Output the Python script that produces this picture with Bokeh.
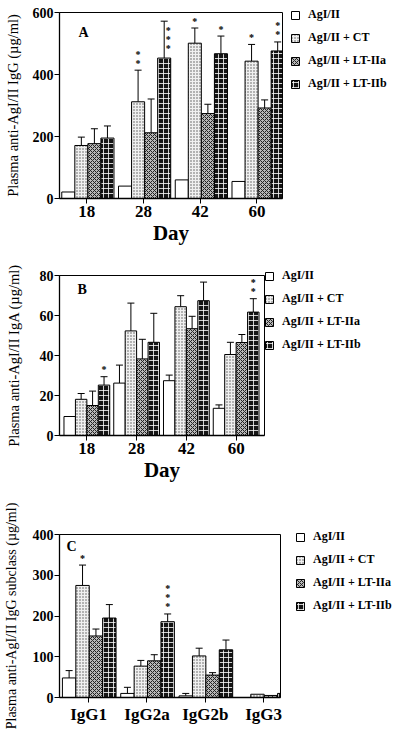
import math
from bokeh.plotting import figure
from bokeh.models import (Range1d, FixedTicker, Whisker, TeeHead, ColumnDataSource,
                          Legend, LegendItem, Label)
from bokeh.layouts import column
from bokeh.embed import file_html
from bokeh.resources import INLINE
from bokeh.core.properties import value

# ---------------- data ----------------
series = ["AgI/II", "AgI/II + CT", "AgI/II + LT-IIa", "AgI/II + LT-IIb"]
days = ["18", "28", "42", "60"]
subclasses = ["IgG1", "IgG2a", "IgG2b", "IgG3"]

# Panel A: plasma IgG (ug/ml)
igg_agi = [21, 40, 60, 55]
igg_ct = [171, 312, 501, 443]
igg_lt2a = [177, 212, 274, 292]
igg_lt2b = [195, 453, 467, 476]
igg_agi_err = [None, None, None, None]
igg_ct_err = [198, 414, 550, 497]
igg_lt2a_err = [225, 321, 304, 318]
igg_lt2b_err = [234, 572, 524, 505]
igg_ct_stars = [0, 2, 1, 1]
igg_lt2b_stars = [0, 3, 1, 2]

# Panel B: plasma IgA (ug/ml)
iga_agi = [9.5, 26.2, 27.4, 13.6]
iga_ct = [18.1, 52.3, 64.4, 40.5]
iga_lt2a = [15.0, 38.3, 53.4, 46.5]
iga_lt2b = [25.2, 46.6, 67.4, 61.7]
iga_agi_err = [None, 35.2, 30.2, 15.3]
iga_ct_err = [21.0, 66.2, 69.9, 46.6]
iga_lt2a_err = [22.2, 48.1, 59.6, 50.5]
iga_lt2b_err = [29.4, 61.1, 76.7, 68.4]
iga_lt2b_stars = [1, 0, 0, 2]

# Panel C: IgG subclasses (ug/ml)
sub_agi = [48, 10, 4, 0]
sub_ct = [275, 77, 102, 8]
sub_lt2a = [151, 90, 55, 5]
sub_lt2b = [195, 186, 117, 10]
sub_agi_err = [66, 25, 10, None]
sub_ct_err = [325, 91, 121, None]
sub_lt2a_err = [168, 105, 61, None]
sub_lt2b_err = [228, 205, 141, None]
sub_ct_stars = [1, 0, 0, 0]
sub_lt2b_stars = [0, 3, 0, 0]

# ---------------- styles ----------------
SERIF = "Liberation Serif"
styles = [
    dict(fill_color="white"),
    dict(fill_color="#f0f0f0", hatch_pattern="dot", hatch_scale=3, hatch_weight=1.1, hatch_color="#555555"),
    dict(fill_color="#b8b8b8", hatch_pattern="diagonal_cross", hatch_scale=4, hatch_weight=1, hatch_color="#222222"),
    dict(fill_color="#151515", hatch_pattern="cross", hatch_scale=5, hatch_weight=0.8, hatch_color="white"),
]
BAR_W = 0.23
OFFS = [-0.345, -0.115, 0.115, 0.345]


def make_panel(cats, vals, errs, stars, ymax, ystep, ylabel, letter, xlabel,
               left, fw, fh, top, bottom, right, xr, shift, letter_off,
               leg_dx, leg_dy, leg_standoff, ylab_standoff, ylab_size):
    p = figure(frame_width=fw, frame_height=fh, min_border_left=left, min_border_right=right,
               min_border_top=top, min_border_bottom=bottom,
               x_range=Range1d(*xr), y_range=Range1d(0, ymax),
               output_backend="svg", toolbar_location=None, tools="")
    p.background_fill_color = "white"
    p.border_fill_color = "white"
    p.outline_line_color = "black"
    p.outline_line_width = 1
    p.grid.visible = False

    renderers = []
    for j in range(4):
        xs = [i + 0.5 + shift + OFFS[j] for i in range(len(cats))]
        src = ColumnDataSource(dict(x=xs, top=vals[j]))
        r = p.vbar(x="x", top="top", bottom=0, width=BAR_W, source=src,
                   line_color="black", line_width=1, **styles[j])
        renderers.append(r)
        ex = [xs[i] for i in range(len(cats)) if errs[j][i] is not None]
        et = [vals[j][i] for i in range(len(cats)) if errs[j][i] is not None]
        eu = [errs[j][i] for i in range(len(cats)) if errs[j][i] is not None]
        if ex:
            wsrc = ColumnDataSource(dict(base=ex, lower=et, upper=eu))
            w = Whisker(source=wsrc, base="base", lower="lower", upper="upper",
                        line_color="black", line_width=1,
                        upper_head=TeeHead(size=7, line_color="black", line_width=1),
                        lower_head=None)
            p.add_layout(w)
        if stars[j] is not None:
            sx, sy, sxo, syo = [], [], [], []
            for i in range(len(cats)):
                n = stars[j][i]
                if not n:
                    continue
                gap = (ymax - errs[j][i]) / ymax * fh
                beside = gap < 7 + 9 * (n - 1) + 3
                for k in range(n):
                    sx.append(xs[i])
                    sy.append(errs[j][i])
                    if beside:
                        sxo.append(4)
                        syo.append(9 + 9 * k)
                    else:
                        sxo.append(0)
                        syo.append(-(7 + 9 * k))
            ssrc = ColumnDataSource(dict(x=sx, y=sy, xo=sxo, yo=syo, t=["*"] * len(sx)))
            p.text(x="x", y="y", text="t", x_offset="xo", y_offset="yo", source=ssrc,
                   text_font=value(SERIF), text_font_size="10px", text_color="#000000",
                   text_font_style="bold", text_align="center", text_baseline="middle")

    # axes
    p.yaxis.ticker = FixedTicker(ticks=list(range(0, ymax + 1, ystep)))
    p.xaxis.ticker = FixedTicker(ticks=[i + 0.5 for i in range(len(cats))])
    p.xaxis.major_label_overrides = {i + 0.5: c for i, c in enumerate(cats)}
    for ax in (p.xaxis[0], p.yaxis[0]):
        ax.axis_line_width = 1.3
        ax.axis_line_color = "black"
        ax.major_tick_line_color = "black"
        ax.major_tick_out = 5
        ax.major_tick_in = 0
        ax.minor_tick_line_color = None
        ax.major_label_text_font = SERIF
        ax.major_label_text_font_style = "bold"
        ax.major_label_text_color = "black"
    p.yaxis.major_label_text_font_size = "14px"
    p.yaxis.major_label_standoff = 1
    p.xaxis.major_label_text_font_size = "17px"
    p.xaxis.major_label_standoff = 2
    p.yaxis.axis_label = ylabel
    p.yaxis.axis_label_text_font = SERIF
    p.yaxis.axis_label_text_font_style = "normal"
    p.yaxis.axis_label_text_font_size = ylab_size
    p.yaxis.axis_label_text_color = "black"
    p.yaxis.axis_label_standoff = ylab_standoff
    if xlabel:
        p.xaxis.axis_label = xlabel
        p.xaxis.axis_label_text_font = SERIF
        p.xaxis.axis_label_text_font_style = "bold"
        p.xaxis.axis_label_text_font_size = "21px"
        p.xaxis.axis_label_text_color = "black"
        p.xaxis.axis_label_standoff = 1

    p.add_layout(Label(x=xr[0], y=ymax, x_offset=letter_off[0], y_offset=-letter_off[1],
                       text=letter, text_font=SERIF, text_font_style="bold",
                       text_font_size="14px", text_color="black", text_baseline="middle"))

    legend = Legend(items=[LegendItem(label=s, renderers=[r]) for s, r in zip(series, renderers)],
                    location=(leg_dx, fh - leg_dy), padding=0, margin=0, spacing=8,
                    glyph_height=10, glyph_width=10, label_height=14, label_standoff=leg_standoff,
                    label_text_font=SERIF, label_text_font_style="bold", label_text_font_size="12px",
                    label_text_color="black", background_fill_alpha=0, border_line_alpha=0)
    p.add_layout(legend, "right")
    return p


pA = make_panel(days, [igg_agi, igg_ct, igg_lt2a, igg_lt2b],
                [igg_agi_err, igg_ct_err, igg_lt2a_err, igg_lt2b_err],
                [None, igg_ct_stars, None, igg_lt2b_stars],
                600, 200, "Plasma anti-AgI/II IgG (\u00b5g/ml)", "A", "Day",
                left=55, fw=223, fh=186, top=12, bottom=46, right=114,
                xr=(0.02, 3.95), shift=0.02, letter_off=(19, 20),
                leg_dx=8, leg_dy=79, leg_standoff=8, ylab_standoff=9, ylab_size="14.5px")

pB = make_panel(days, [iga_agi, iga_ct, iga_lt2a, iga_lt2b],
                [iga_agi_err, iga_ct_err, iga_lt2a_err, iga_lt2b_err],
                [None, None, None, iga_lt2b_stars],
                80, 20, "Plasma anti-AgI/II IgA (\u00b5g/ml)", "B", "Day",
                left=55, fw=205, fh=160, top=28, bottom=48, right=132,
                xr=(-0.05, 4.07), shift=0.0, letter_off=(18, 14),
                leg_dx=0, leg_dy=77, leg_standoff=8, ylab_standoff=15, ylab_size="14.5px")

pC = make_panel(subclasses, [sub_agi, sub_ct, sub_lt2a, sub_lt2b],
                [sub_agi_err, sub_ct_err, sub_lt2a_err, sub_lt2b_err],
                [None, sub_ct_stars, None, sub_lt2b_stars],
                400, 100, "Plasma anti-AgI/II IgG subclass (\u00b5g/ml)", "C", None,
                left=57, fw=221, fh=163, top=50, bottom=35, right=114,
                xr=(0.0, 3.79), shift=0.01, letter_off=(7, 12),
                leg_dx=15, leg_dy=79, leg_standoff=8, ylab_standoff=11, ylab_size="14px")

layout = column(pA, pB, pC, spacing=0)
open("out.html", "w").write(file_html(layout, INLINE))
